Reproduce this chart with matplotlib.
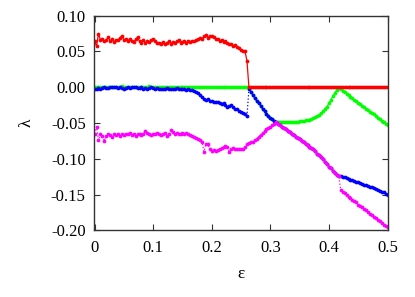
import numpy as np
import matplotlib
matplotlib.use("Agg")
import matplotlib.pyplot as plt
from matplotlib.ticker import FuncFormatter

# coupling strength grid (eps = i/300)
eps = np.linspace(0, 0.5, 151)

red_left = [
    0.065, 0.057, 0.075, 0.066, 0.068, 0.064, 0.066, 0.070, 0.065, 0.067,
    0.063, 0.066, 0.066, 0.069, 0.072, 0.066, 0.067, 0.064, 0.068, 0.065,
    0.063, 0.067, 0.070, 0.064, 0.062, 0.066, 0.062, 0.064, 0.063, 0.066,
    0.068, 0.064, 0.062, 0.062, 0.061, 0.063, 0.060, 0.062, 0.064, 0.061,
    0.063, 0.062, 0.064, 0.066, 0.062, 0.063, 0.065, 0.062, 0.064, 0.063,
    0.065, 0.064, 0.066, 0.067, 0.069, 0.068, 0.071, 0.073, 0.069, 0.072,
    0.071, 0.070, 0.068, 0.068, 0.065, 0.066, 0.063, 0.064, 0.062, 0.060,
    0.061, 0.058, 0.059, 0.056, 0.055, 0.052, 0.051, 0.050, 0.037,
]
red = red_left + [0.0] * 72

green_left = [
    0.000, 0.000, 0.001, 0.000, 0.000, 0.000, 0.000, 0.000, 0.000, 0.000,
    0.000, 0.001, 0.000, 0.000, 0.002, 0.000, 0.000, 0.000, 0.000, 0.000,
    0.000, 0.000, 0.000, 0.000, 0.000, 0.000, 0.000, 0.000, 0.002, 0.000,
    0.000, 0.000, 0.000, 0.000, 0.000, 0.000, 0.000, 0.000, 0.000, 0.000,
    0.000, 0.000, 0.000, 0.000, 0.000, 0.000, 0.000, 0.000, 0.000, 0.001,
    0.000, 0.000, 0.000, 0.000, 0.000, 0.000, 0.000, 0.000, 0.000, 0.000,
    0.000, 0.000, 0.000, 0.000, 0.000, 0.000, 0.000, 0.000, 0.000, 0.000,
    0.000, 0.000, 0.000, 0.000, 0.000, 0.000, 0.000, 0.000, 0.000,
]
green_right = [
    -0.048, -0.048, -0.048, -0.048, -0.048, -0.048, -0.048, -0.048,
    -0.048, -0.048, -0.048, -0.048,
    -0.0475, -0.0473, -0.047, -0.0465, -0.046, -0.0455, -0.0448, -0.0435,
    -0.042, -0.0405, -0.0385, -0.036, -0.0335, -0.030, -0.027, -0.022,
    -0.0175, -0.0125, -0.008, -0.004, -0.001,
    -0.003, -0.005, -0.007, -0.0095, -0.0115, -0.0135, -0.0155, -0.0175,
    -0.0195, -0.022, -0.024, -0.026, -0.028, -0.030, -0.032, -0.034,
    -0.036, -0.038, -0.040, -0.043, -0.045, -0.047, -0.049, -0.051, -0.053,
]

pink = [
    -0.065, -0.055, -0.074, -0.066, -0.068, -0.075, -0.068, -0.066, -0.067, -0.069,
    -0.066, -0.067, -0.065, -0.068, -0.066, -0.067, -0.065, -0.066, -0.064, -0.067,
    -0.066, -0.068, -0.066, -0.065, -0.067, -0.066, -0.061, -0.064, -0.066, -0.067,
    -0.065, -0.066, -0.064, -0.066, -0.067, -0.065, -0.064, -0.068, -0.066, -0.060,
    -0.063, -0.066, -0.064, -0.065, -0.066, -0.064, -0.065, -0.064, -0.066, -0.067,
    -0.068, -0.069, -0.071, -0.073, -0.074, -0.077, -0.090, -0.079, -0.080, -0.086,
    -0.089, -0.088, -0.089, -0.088, -0.087, -0.085, -0.084, -0.082, -0.084, -0.090,
    -0.086, -0.085, -0.087, -0.087, -0.086, -0.087, -0.087, -0.084, -0.079,
    -0.078, -0.077, -0.076, -0.074, -0.072, -0.069, -0.067, -0.064, -0.061, -0.059,
    -0.057, -0.055, -0.053, -0.051, -0.049,
    -0.051, -0.053, -0.055, -0.057, -0.059, -0.061, -0.063, -0.065, -0.067, -0.069,
    -0.071, -0.073, -0.075, -0.077, -0.079, -0.081, -0.083, -0.085, -0.087, -0.089,
    -0.093, -0.095, -0.098, -0.101, -0.104, -0.107, -0.111, -0.113, -0.117, -0.120,
    -0.122, -0.124,
    -0.144, -0.146, -0.148, -0.151, -0.153, -0.155, -0.157, -0.159, -0.161, -0.164,
    -0.166, -0.168, -0.170, -0.172, -0.174, -0.177, -0.179, -0.181, -0.183, -0.185,
    -0.187, -0.190, -0.192, -0.194, -0.196,
]

blue_left = [
    -0.002, -0.002, -0.001, -0.002, -0.001, 0.000, -0.001, -0.001, 0.000, 0.000,
    0.001, 0.000, -0.001, 0.000, -0.001, -0.002, -0.001, 0.000, -0.001, 0.000,
    0.001, 0.000, -0.001, -0.001, 0.000, -0.002, -0.001, -0.002, -0.001, 0.000,
    -0.001, -0.002, -0.001, -0.002, -0.003, -0.002, -0.002, -0.001, -0.003, -0.002,
    -0.003, -0.002, -0.001, -0.002, -0.003, -0.003, -0.002, -0.004, -0.003, -0.004,
    -0.004, -0.005, -0.006, -0.008, -0.011, -0.013, -0.016, -0.018, -0.017, -0.019,
    -0.019, -0.020, -0.021, -0.020, -0.022, -0.023, -0.022, -0.025, -0.027, -0.026,
    -0.025, -0.028, -0.030, -0.031, -0.033, -0.035, -0.036, -0.038, -0.040,
]
blue_mid = [
    -0.003, -0.007, -0.011, -0.015, -0.019, -0.022, -0.026, -0.030, -0.033, -0.037,
    -0.040, -0.043, -0.045, -0.047,
]
blue_right = [
    -0.124, -0.125, -0.126, -0.127, -0.128, -0.129, -0.130, -0.131, -0.132, -0.133,
    -0.134, -0.135, -0.136, -0.137, -0.138, -0.139, -0.140, -0.141, -0.142, -0.143,
    -0.145, -0.146, -0.147, -0.149, -0.150,
]
# between 0.31 and 0.417 the blue exponent sits under the magenta one,
# and between 0.263 and 0.31 the green one sits under the blue one
blue = blue_left + blue_mid + pink[93:126] + blue_right
green = green_left + blue_mid + green_right

plt.rcParams['font.family'] = ['Liberation Serif', 'DejaVu Serif']

fig = plt.figure(figsize=(4.15, 2.97), dpi=100)
ax = fig.add_axes([0.2265, 0.2246, 0.7075, 0.7225])

mk = dict(marker='o', markersize=2.7, markeredgewidth=0)
ax.plot(eps, green, '-', color='#00ff00', lw=0.9, **mk)
ax.plot(eps, blue, ':', color='#0000ff', lw=0.9, **mk)
ax.plot(eps, pink, ':', color='#ff00ff', lw=0.9, **mk)
ax.plot(eps, red, '-', color='#ff0000', lw=0.9, **mk)

ax.set_xlim(-0.001, 0.5)
ax.set_ylim(-0.2, 0.1)
ax.set_xticks([0, 0.1, 0.2, 0.3, 0.4, 0.5])
ax.set_yticks([-0.2, -0.15, -0.1, -0.05, 0, 0.05, 0.1])
ax.xaxis.set_major_formatter(FuncFormatter(lambda v, p: '0' if abs(v) < 1e-9 else f'{v:.1f}'))
ax.yaxis.set_major_formatter(FuncFormatter(lambda v, p: f'{v:.2f}'.replace('\u2212', '-')))

ax.tick_params(direction='in', length=4, width=0.8, top=True, right=True,
               labelsize=12, color='#333333')
ax.tick_params(axis='y', pad=6)
ax.tick_params(axis='x', pad=7)
for s in ax.spines.values():
    s.set_color('#333333')
    s.set_linewidth(1.0)

ax.set_xlabel('ε', fontsize=12.5, labelpad=7)
ax.set_ylabel('λ', fontsize=12.5, labelpad=12)

fig.savefig('out.png', dpi=100)
